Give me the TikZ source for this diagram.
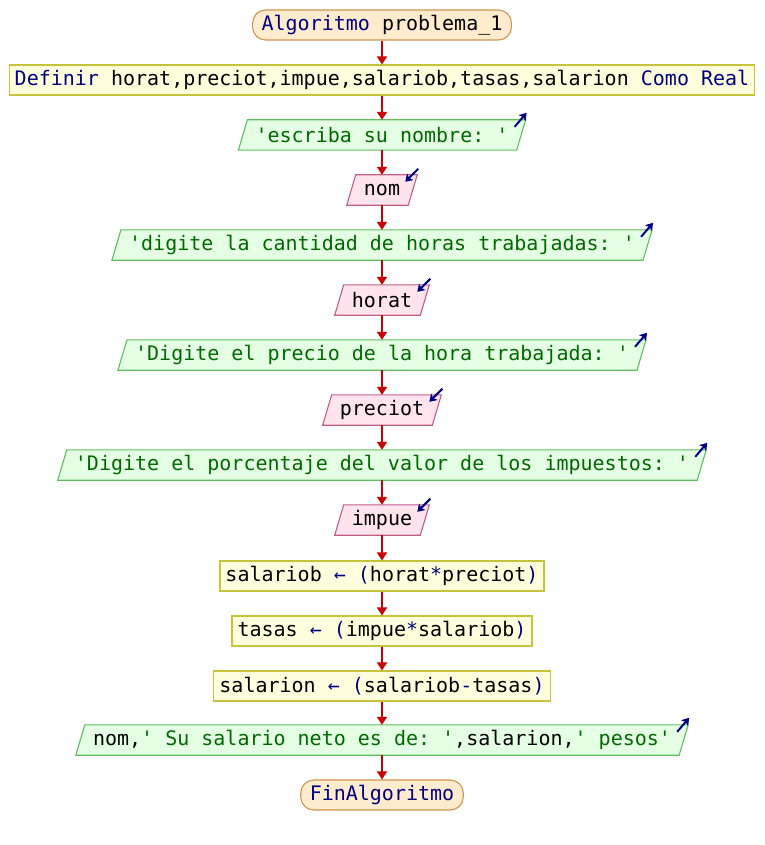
\documentclass[tikz,border=0pt]{standalone}
\usepackage{fontspec}
\setmonofont{DejaVu Sans Mono}
\usetikzlibrary{arrows.meta,calc}
\pgfdeclarelayer{bg}
\pgfsetlayers{bg,main}
\definecolor{kw}{RGB}{0,0,128}
\definecolor{str}{RGB}{0,105,0}
\definecolor{termF}{RGB}{255,236,206}
\definecolor{termB}{RGB}{205,150,80}
\definecolor{procF}{RGB}{255,255,221}
\definecolor{procB}{RGB}{200,195,60}
\definecolor{outF}{RGB}{228,255,228}
\definecolor{outB}{RGB}{95,190,95}
\definecolor{inF}{RGB}{255,228,238}
\definecolor{inB}{RGB}{190,95,135}
\definecolor{flowC}{RGB}{205,0,0}
\definecolor{iconC}{RGB}{0,0,130}
\tikzset{
 base/.style={font=\ttfamily\fontsize{20}{24}\selectfont, minimum height=30pt, inner ysep=0pt, anchor=center},
 term/.style={base, draw=termB, fill=termF, rounded corners=13pt, inner xsep=9pt, line width=1.1pt},
 proc/.style={base, draw=procB, fill=procF, inner xsep=5.5pt, line width=1.1pt},
 io/.style={base, inner xsep=12.5pt},
 outshape/.style={draw=outB, fill=outF, line width=1.1pt},
 inshape/.style={draw=inB, fill=inF, line width=1.1pt},
 flow/.style={draw=flowC, line width=1.7pt, -{Triangle[width=10pt,length=8pt]}},
 icon/.style={draw=iconC, line width=2pt, -{Stealth[length=7pt,width=9pt,inset=1.5pt]}},
}
\newcommand\psPara[3]{%
 \begin{pgfonlayer}{bg}
 \path[#2] ($(#1.north west)+(#3,0)$) -- ($(#1.north east)+(#3,0)$) -- ($(#1.south east)-(#3,0)$) -- ($(#1.south west)-(#3,0)$) -- cycle;
 \end{pgfonlayer}}
\newcommand\psOut[1]{%
 \psPara{#1}{outshape}{4.5}
 \coordinate (#1-it) at ($(#1.north east)+(4.5,0)+(-11,7)$);
 \coordinate (#1-ih) at ($(#1.north east)+(4.5,0)+(1,-7)$);
 \draw[icon] (#1-it) -- (#1-ih);}
\newcommand\psIn[1]{%
 \psPara{#1}{inshape}{4.5}
 \coordinate (#1-it) at ($(#1.north east)+(4.5,0)+(1,-6)$);
 \coordinate (#1-ih) at ($(#1.north east)+(4.5,0)+(-12,7)$);
 \draw[icon] (#1-it) -- (#1-ih);}
\newcommand\kw[1]{\textcolor{kw}{#1}}
\newcommand\st[1]{\textcolor{str}{#1}}
\begin{document}
\begin{tikzpicture}[x=1pt,y=-1pt]
\useasboundingbox (0,0) rectangle (764,845);
\node[term] (start) at (382,25) {\kw{Algoritmo} problema\_1};
\node[proc] (def) at (382,80) {\kw{Definir} horat,preciot,impue,salariob,tasas,salarion \kw{Como Real}};
\node[io] (o1) at (382,135) {\st{'escriba su nombre: '}};
\node[io] (i1) at (382,190) {nom};
\node[io] (o2) at (382,245) {\st{'digite la cantidad de horas trabajadas: '}};
\node[io] (i2) at (382,300) {horat};
\node[io] (o3) at (382,355) {\st{'Digite el precio de la hora trabajada: '}};
\node[io] (i3) at (382,410) {preciot};
\node[io] (o4) at (382,465) {\st{'Digite el porcentaje del valor de los impuestos: '}};
\node[io] (i4) at (382,520) {impue};
\node[proc] (p1) at (382,576) {salariob \kw{← (}horat\kw{*}preciot\kw{)}};
\node[proc] (p2) at (382,631) {tasas \kw{← (}impue\kw{*}salariob\kw{)}};
\node[proc] (p3) at (382,686) {salarion \kw{← (}salariob\kw{-}tasas\kw{)}};
\node[io] (o5) at (382,740) {nom,\st{' Su salario neto es de: '},salarion,\st{' pesos'}};
\node[term] (fin) at (382,795) {\kw{FinAlgoritmo}};
\psOut{o1}\psOut{o2}\psOut{o3}\psOut{o4}\psOut{o5}
\psIn{i1}\psIn{i2}\psIn{i3}\psIn{i4}
\draw[flow] (start) -- (def);
\draw[flow] (def) -- (o1);
\draw[flow] (o1) -- (i1);
\draw[flow] (i1) -- (o2);
\draw[flow] (o2) -- (i2);
\draw[flow] (i2) -- (o3);
\draw[flow] (o3) -- (i3);
\draw[flow] (i3) -- (o4);
\draw[flow] (o4) -- (i4);
\draw[flow] (i4) -- (p1);
\draw[flow] (p1) -- (p2);
\draw[flow] (p2) -- (p3);
\draw[flow] (p3) -- (o5);
\draw[flow] (o5) -- (fin);
\end{tikzpicture}
\end{document}
